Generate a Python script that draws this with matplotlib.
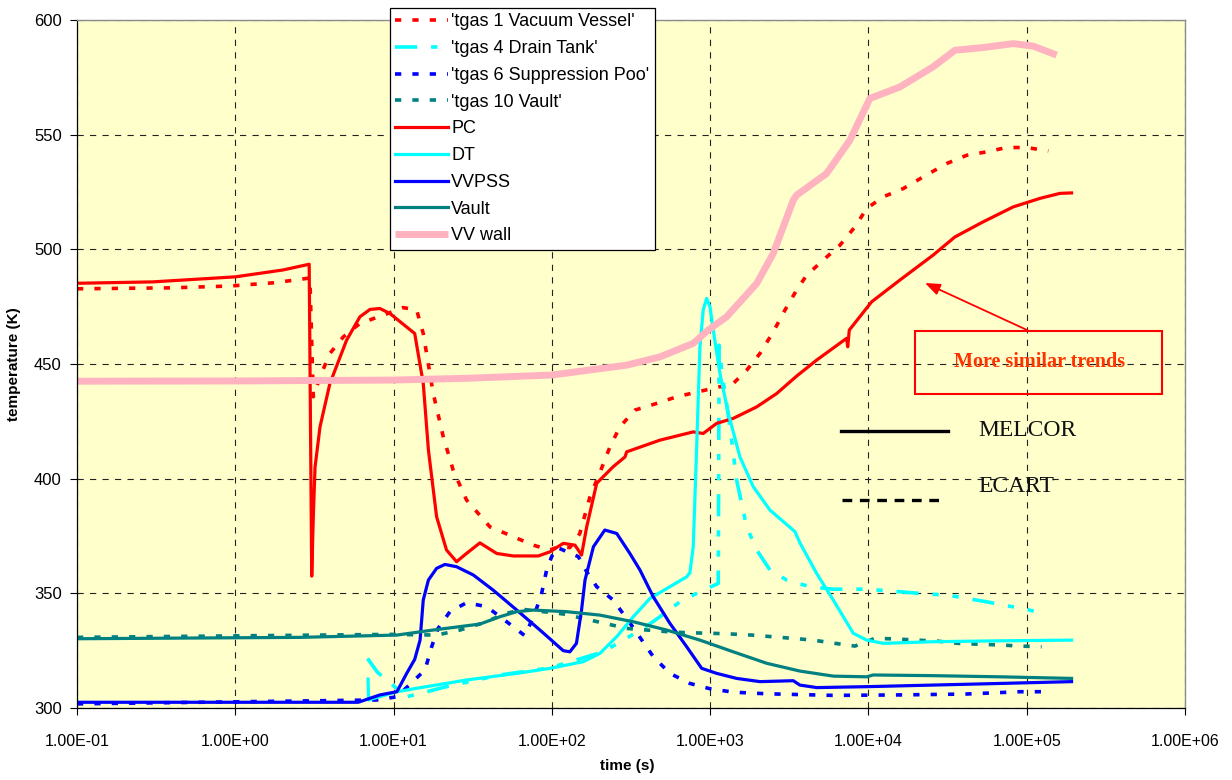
import matplotlib
matplotlib.use("Agg")
import matplotlib.pyplot as plt
from matplotlib.lines import Line2D
from matplotlib.patches import Rectangle

# ---------------- data (time in s, temperature in K) ----------------
pc_t = [0.1, 0.3, 1.0, 2.0, 2.93, 3.04, 3.11, 3.19, 3.43, 3.96, 5.05, 6.13, 7.10, 8.20, 9.49,
        13.6, 15.4, 16.6, 18.7, 21.6, 25.0, 28.9, 35.1, 44.8, 57.0, 82.1, 97.3, 118, 140, 154,
        166, 192, 244, 290, 297, 482, 782, 904, 1099, 1400, 1968, 2630, 3516, 4707, 7280,
        7400, 7570, 10470, 15800, 25650, 35180, 53100, 82200, 121000, 162000, 192000]
pc_T = [485.2, 485.8, 488.0, 491.0, 493.5, 357.5, 383.0, 405.0, 422.6, 441.5, 460.4, 470.6, 473.8, 474.2, 472.0,
        463.3, 441.5, 412.5, 383.4, 368.9, 363.8, 367.4, 372.0, 367.4, 366.3, 366.3, 368.1, 371.8, 371.0, 366.7,
        379.0, 398.0, 405.2, 409.5, 411.7, 416.8, 420.4, 419.7, 424.1, 426.3, 431.3, 437.1, 444.7, 451.7, 461.2,
        457.5, 464.8, 477.1, 486.6, 497.5, 505.4, 512.0, 518.5, 522.2, 524.4, 524.6]

vv_t = [0.1, 0.387, 0.926, 1.738, 2.38, 2.96, 3.11, 3.43, 3.96, 4.81, 6.13, 8.61, 11.5, 14.0, 15.4,
        17.8, 20.6, 23.8, 28.9, 40.6, 57.0, 76.3, 97.3, 107, 130, 150, 174, 206, 233, 269,
        335, 459, 614, 841, 1153, 1334, 1702, 2064, 2504, 2969, 3516, 4070, 5183, 6607, 8222,
        9746, 12400, 16600, 22200, 31200, 41700, 55800, 74600, 99800, 137000]
vv_T = [482.8, 483.2, 484.0, 485.4, 486.6, 487.5, 435.7, 444.4, 454.6, 461.8, 467.7, 471.3, 474.6, 473.5, 463.3,
        437.2, 418.3, 403.7, 390.7, 379.0, 374.7, 371.0, 368.9, 370.0, 370.0, 376.0, 392.0, 404.5, 413.9, 422.6,
        429.9, 432.8, 435.7, 437.9, 440.1, 440.1, 447.3, 454.6, 464.0, 473.5, 482.2, 488.7, 495.3, 501.8, 509.8,
        517.8, 522.9, 526.5, 531.6, 537.4, 541.0, 542.5, 544.4, 544.4, 542.9]

wall_t = [0.1, 1.0, 10, 30, 100, 297, 482, 782, 972, 1271, 1968, 2504, 3350, 3516, 5445, 7640,
          10220, 15800, 25650, 35180, 53100, 82200, 110000, 154500]
wall_T = [442.5, 442.6, 443.0, 443.8, 445.2, 449.5, 453.1, 459.0, 464.8, 470.6, 485.1, 498.2, 521.4, 523.6,
          533.1, 547.6, 565.8, 570.8, 579.6, 586.8, 588.0, 589.7, 588.6, 584.7]

dt_t = [6.90, 6.95, 10.5, 14.0, 28.9, 60.0, 97.3, 158, 201, 257, 327, 417, 557, 711, 745, 782, 822, 862,
        904, 950, 997, 1046, 1153, 1302, 1542, 1872, 2387, 3433, 3690, 4707, 5995, 8020, 9746, 12400,
        25650, 67700, 192000]
dt_T = [312.6, 303.5, 307.1, 308.6, 312.2, 315.1, 317.3, 320.2, 323.8, 331.1, 339.8, 347.8, 352.9, 357.2,
        359.0, 370.3, 413.9, 457.5, 473.5, 478.6, 475.0, 464.8, 445.9, 428.5, 409.5, 396.5, 386.3, 376.9,
        372.0, 358.7, 347.1, 332.6, 329.6, 328.2, 328.9, 329.3, 329.6]

tg4_t = [6.85, 7.90, 12.1, 15.4, 21.6, 47.0, 97.3, 211, 282, 378, 482, 644, 862, 1125, 1140, 1182, 1334,
         1470, 1702, 1968, 2387, 3043, 4270, 5995, 9746, 15800, 23300, 31200, 41700, 55800, 74600, 95000,
         130000]
tg4_T = [321.6, 315.6, 304.9, 306.7, 309.3, 314.4, 317.5, 324.5, 329.6, 334.7, 339.8, 346.3, 350.7, 354.3,
         458.2, 447.3, 422.6, 399.4, 379.0, 368.9, 360.2, 355.8, 352.9, 351.8, 351.8, 350.7, 349.7, 349.3,
         347.8, 346.3, 344.6, 343.4, 341.0]

vvpss_t = [0.1, 5.98, 8.20, 10.5, 12.1, 13.6, 14.7, 15.4, 16.6, 18.7, 21.1, 25.0, 31.9, 42.6, 60.0, 84.1,
           118, 130, 143, 154, 162, 183, 216, 257, 311, 360, 437, 557, 711, 884, 1099, 1470, 2064, 3350,
           3690, 4707, 9746, 25650, 67700, 192000]
vvpss_T = [302.5, 302.5, 305.7, 307.1, 315.1, 321.2, 329.6, 347.1, 355.8, 360.9, 362.6, 361.6, 358.0, 351.4,
           342.7, 334.0, 325.0, 324.5, 328.2, 342.7, 355.8, 370.3, 377.6, 376.1, 367.4, 360.2, 348.5, 336.9,
           326.7, 317.3, 315.1, 312.9, 311.5, 311.9, 310.0, 308.9, 309.3, 310.0, 310.7, 311.5]

tg6_t = [0.1, 7.82, 10.5, 15.8, 17.4, 19.1, 22.7, 28.9, 38.7, 52.8, 67.6, 78.2, 86.2, 92.7, 99.7, 108,
         147, 166, 192, 244, 327, 437, 557, 745, 997, 1400, 2275, 5995, 15800, 41700, 90600, 127000]
tg6_T = [301.8, 303.5, 304.9, 316.6, 326.7, 334.7, 342.0, 345.9, 344.2, 337.2, 331.5, 341.3, 350.0, 360.2,
         366.0, 370.0, 366.0, 359.4, 352.9, 347.1, 335.0, 322.4, 315.1, 310.7, 308.4, 306.9, 306.2, 305.5,
         305.7, 306.1, 307.1, 307.1]

vault_t = [0.1, 2.56, 10.5, 17.8, 35.1, 47.0, 60.0, 76.3, 124, 201, 327, 531, 862, 1400, 2275, 3690, 5995,
           9746, 10720, 25650, 67700, 192000]
vault_T = [330.2, 330.8, 331.8, 334.0, 336.6, 339.8, 342.0, 342.7, 342.0, 340.5, 337.6, 334.0, 329.6, 324.5,
           319.5, 316.1, 313.9, 313.6, 314.4, 314.1, 313.6, 312.9]

tg10_t = [0.1, 9.77, 18.7, 26.3, 36.0, 51.8, 65.9, 118, 216, 297, 397, 531, 727, 997, 1334, 1828, 2447,
          3272, 4480, 6140, 8222, 10990, 15070, 20160, 26970, 36900, 49400, 67700, 90600, 124200]
tg10_T = [330.8, 332.1, 331.8, 334.0, 336.9, 341.3, 343.0, 341.0, 336.9, 334.7, 334.0, 333.3, 332.8, 332.6,
          332.3, 331.8, 331.1, 330.4, 329.6, 328.2, 327.0, 330.4, 330.1, 329.6, 329.2, 328.2, 327.8, 327.5,
          327.0, 326.7]

x_ticks = [1e-1, 1e0, 1e1, 1e2, 1e3, 1e4, 1e5, 1e6]
x_tick_labels = ["1.00E-01", "1.00E+00", "1.00E+01", "1.00E+02", "1.00E+03", "1.00E+04", "1.00E+05", "1.00E+06"]
y_ticks = [300, 350, 400, 450, 500, 550, 600]

# ---------------- figure ----------------
plt.rcParams['font.family'] = ['Liberation Sans', 'DejaVu Sans']
plt.rcParams['lines.scale_dashes'] = False

W, H = 1232, 780
fig = plt.figure(figsize=(W / 100, H / 100), dpi=100)
L, R, T, B = 77, 1185, 20, 708
ax = fig.add_axes([L / W, (H - B) / H, (R - L) / W, (B - T) / H])
ax.set_facecolor('#FFFFCC')
ax.set_xscale('log')
ax.set_xlim(0.1, 1e6)
ax.set_ylim(300, 600)

ax.set_xticks(x_ticks)
ax.set_xticklabels(x_tick_labels)
ax.xaxis.set_minor_locator(matplotlib.ticker.NullLocator())
ax.set_yticks(y_ticks)
ax.tick_params(axis='x', direction='out', length=5, width=0.8, pad=14, labelsize=11.5)
ax.tick_params(axis='y', direction='out', length=5, width=0.8, pad=6, labelsize=12)

ax.set_axisbelow(True)
ax.grid(True, which='major', color='#222222', linewidth=0.8, linestyle=(0, (4.5, 4.5)))
for s in ('top', 'right'):
    ax.spines[s].set_color('#8c8c8c')
    ax.spines[s].set_linewidth(1.0)
for s in ('left', 'bottom'):
    ax.spines[s].set_color('#000000')
    ax.spines[s].set_linewidth(0.9)

RED, CYAN, BLUE, TEAL, PINK = '#FF0000', '#00FFFF', '#0000FF', '#008080', '#FFB3C1'
dash_short = (0, (4.5, 8))
dash_cyan = (0, (16, 10, 4.5, 10, 4.5, 10))
lw_s, lw_d = 2.3, 2.6

h1, = ax.plot(vv_t, vv_T, color=RED, lw=lw_d, ls=dash_short, label="'tgas 1 Vacuum Vessel'")
h2, = ax.plot(tg4_t, tg4_T, color=CYAN, lw=lw_d, ls=dash_cyan, label="'tgas 4 Drain Tank'")
h3, = ax.plot(tg6_t, tg6_T, color=BLUE, lw=lw_d, ls=dash_short, label="'tgas 6 Suppression Poo'")
h4, = ax.plot(tg10_t, tg10_T, color=TEAL, lw=lw_d, ls=dash_short, label="'tgas 10 Vault'")
h5, = ax.plot(pc_t, pc_T, color=RED, lw=lw_s, label='PC')
h6, = ax.plot(dt_t, dt_T, color=CYAN, lw=lw_s, label='DT')
h7, = ax.plot(vvpss_t, vvpss_T, color=BLUE, lw=lw_s, label='VVPSS')
h8, = ax.plot(vault_t, vault_T, color=TEAL, lw=lw_s, label='Vault')
h9, = ax.plot(wall_t, wall_T, color=PINK, lw=5.0, label='VV wall', solid_capstyle='butt')

leg = fig.legend(handles=[h1, h2, h3, h4, h5, h6, h7, h8, h9],
                 loc='upper left', bbox_to_anchor=(390 / W, 1 - 8 / H),
                 bbox_transform=fig.transFigure, fontsize=13, frameon=True,
                 fancybox=False, edgecolor='black', framealpha=1, facecolor='white',
                 borderpad=0.3, labelspacing=0.54, handlelength=2.93, handletextpad=0.15,
                 borderaxespad=0)
leg.get_frame().set_linewidth(0.9)

# annotation box and arrow
def af(px, py):
    return ((px - L) / (R - L), (B - py) / (B - T))

x0, y0 = af(915, 394)
x1, y1 = af(1162, 331)
ax.add_patch(Rectangle((x0, y0), x1 - x0, y1 - y0, transform=ax.transAxes,
                       fill=False, edgecolor=RED, lw=1.5, zorder=5))
ax.text(*af(1040, 362), 'More similar trends', transform=ax.transAxes, ha='center', va='center',
        color='#FF3300', fontsize=14.5, fontweight='bold', family=['Liberation Serif', 'DejaVu Serif'],
        zorder=6)
ax.annotate('', xy=af(925, 283), xytext=af(1027, 330), xycoords='axes fraction',
            textcoords='axes fraction',
            arrowprops=dict(arrowstyle='-|>,head_length=0.9,head_width=0.35', color=RED, lw=1.3,
                            shrinkA=0, shrinkB=0), zorder=6)

# MELCOR / ECART key
xa, ya = af(841, 431)
xb, _ = af(948, 431)
ax.add_line(Line2D([xa, xb], [ya, ya], transform=ax.transAxes, color='black', lw=2.4, zorder=6))
ax.text(*af(978, 430), 'MELCOR', transform=ax.transAxes, ha='left', va='center', color='#111111',
        fontsize=17, family=['Liberation Serif', 'DejaVu Serif'], zorder=6)
xa, ya = af(842, 500)
xb, _ = af(946, 500)
ax.add_line(Line2D([xa, xb], [ya, ya], transform=ax.transAxes, color='black', lw=2.4,
                   ls=(0, (7, 5.5)), zorder=6))
ax.text(*af(978, 486), 'ECART', transform=ax.transAxes, ha='left', va='center', color='#111111',
        fontsize=17, family=['Liberation Serif', 'DejaVu Serif'], zorder=6)

fig.text(14 / W, 1 - 364 / H, 'temperature (K)', rotation=90, ha='center', va='center',
         fontsize=11, fontweight='bold')
fig.text(627 / W, 1 - 766 / H, 'time (s)', ha='center', va='center', fontsize=11, fontweight='bold')

fig.savefig('out.png', dpi=100, facecolor='white')
